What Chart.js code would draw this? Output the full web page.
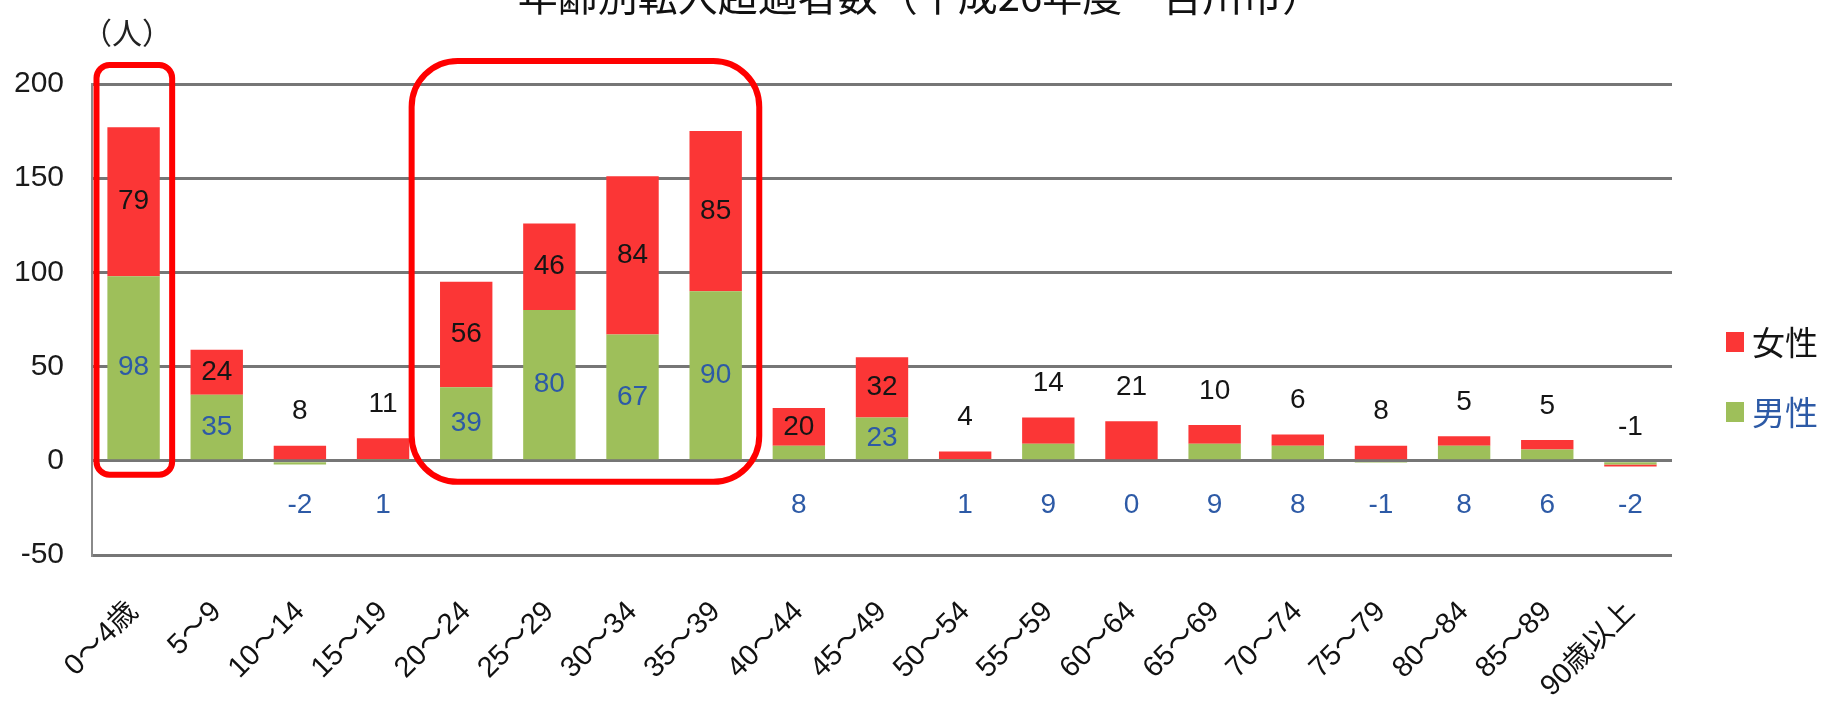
<!DOCTYPE html>
<html lang="ja">
<head>
<meta charset="utf-8">
<title>年齢別転入超過者数</title>
<script src="https://cdn.jsdelivr.net/npm/chart.js@4.4.1/dist/chart.umd.min.js"></script>
<style>
  html, body { margin: 0; padding: 0; background: #fff; }
  #wrap { position: relative; width: 1824px; height: 707px; overflow: hidden; }
</style>
</head>
<body>
<div id="wrap"><canvas id="chart" width="1824" height="707"></canvas></div>
<script>
// 年齢別転入超過者数: 男性・女性の積み上げ棒
var CHART_TITLE = "年齢別転入超過者数（平成26年度・吉川市）";
var UNIT_LABEL = "（人）";
var AGE_GROUPS = [
  "0～4歳", "5～9", "10～14", "15～19", "20～24", "25～29", "30～34",
  "35～39", "40～44", "45～49", "50～54", "55～59", "60～64", "65～69",
  "70～74", "75～79", "80～84", "85～89", "90歳以上"
];
var SERIES_NAMES = ["男性", "女性"];
var MALE = [98, 35, -2, 1, 39, 80, 67, 90, 8, 23, 1, 9, 0, 9, 8, -1, 8, 6, -2];
var FEMALE = [79, 24, 8, 11, 56, 46, 84, 85, 20, 32, 4, 14, 21, 10, 6, 8, 5, 5, -1];
var Y_TICKS = [-50, 0, 50, 100, 150, 200];
// 赤枠で囲むカテゴリ (先頭, 末尾)
var HIGHLIGHT_GROUPS = [[0, 0], [4, 7]];

(function () {
  var FONT = "'Liberation Sans', 'Noto Sans CJK JP', sans-serif";
  var JP_FONT = "'Noto Sans CJK JP', sans-serif";
  var RED = "#fb3636";
  var GREEN = "#9ebf5a";
  var MALE_TEXT = "#2d5aa6";
  var FEMALE_TEXT = "#151515";

  function roundRect(ctx, x, y, w, h, r) {
    ctx.beginPath();
    ctx.moveTo(x + r, y);
    ctx.arcTo(x + w, y, x + w, y + h, r);
    ctx.arcTo(x + w, y + h, x, y + h, r);
    ctx.arcTo(x, y + h, x, y, r);
    ctx.arcTo(x, y, x + w, y, r);
    ctx.closePath();
  }

  var textPlugin = {
    id: "textPlugin",
    afterDraw: function (chart) {
      var ctx = chart.ctx;
      ctx.save();
      // タイトル (上端で切れている)
      ctx.fillStyle = "#111";
      ctx.font = "40px " + JP_FONT;
      ctx.textAlign = "center";
      ctx.textBaseline = "alphabetic";
      ctx.fillText(CHART_TITLE, 920, 11);
      // 単位
      ctx.font = "30px " + JP_FONT;
      ctx.fillStyle = "#222";
      ctx.fillText(UNIT_LABEL, 127, 44);
      ctx.restore();
    }
  };

  var valueLabels = {
    id: "valueLabels",
    afterDatasetsDraw: function (chart) {
      var ctx = chart.ctx;
      var y = chart.scales.y;
      var zero = y.getPixelForValue(0);
      var male = chart.getDatasetMeta(0).data;
      var female = chart.getDatasetMeta(1).data;
      ctx.save();
      ctx.font = "28px " + FONT;
      ctx.textAlign = "center";
      ctx.textBaseline = "middle";
      for (var i = 0; i < AGE_GROUPS.length; i++) {
        var m = male[i], f = female[i];
        var top = Math.min(zero, m.y, m.base, f.y, f.base);
        // 男性
        ctx.fillStyle = MALE_TEXT;
        var mh = Math.abs(m.base - m.y);
        var my = mh >= 30 ? (m.y + m.base) / 2 : zero + 44;
        ctx.fillText(String(MALE[i]), m.x, my);
        // 女性: 低い棒は上に出す
        ctx.fillStyle = FEMALE_TEXT;
        var fh = Math.abs(f.base - f.y);
        var inside = fh >= 30 && (zero - top) >= 48;
        var fy = inside ? (f.y + f.base) / 2 : top - 34;
        ctx.fillText(String(FEMALE[i]), f.x, fy);
      }
      ctx.restore();
    }
  };

  var highlightBoxes = {
    id: "highlightBoxes",
    afterDraw: function (chart) {
      var ctx = chart.ctx;
      var x = chart.scales.x;
      var y = chart.scales.y;
      var step = x.getPixelForValue(1) - x.getPixelForValue(0);
      ctx.save();
      ctx.strokeStyle = "#ff0000";
      ctx.lineWidth = 6;
      HIGHLIGHT_GROUPS.forEach(function (g, k) {
        var left = x.getPixelForValue(g[0]) - step / 2;
        var right = x.getPixelForValue(g[1]) + step / 2;
        var top = y.getPixelForValue(Y_TICKS[Y_TICKS.length - 1]);
        var bottom = y.getPixelForValue(0);
        if (k === 0) {
          left += 4.5; right -= 3; top -= 19; bottom += 14;
        } else {
          left -= 13; right += 2; top -= 23; bottom += 21;
        }
        roundRect(ctx, left, top, right - left, bottom - top, k === 0 ? 13 : 46);
        ctx.stroke();
      });
      ctx.restore();
    }
  };

  var sideLegend = {
    id: "sideLegend",
    afterDraw: function (chart) {
      var ctx = chart.ctx;
      var items = [
        { name: SERIES_NAMES[1], fill: RED, text: FEMALE_TEXT, cy: 342 },
        { name: SERIES_NAMES[0], fill: GREEN, text: MALE_TEXT, cy: 412 }
      ];
      ctx.save();
      ctx.font = "33px " + JP_FONT;
      ctx.textAlign = "left";
      ctx.textBaseline = "middle";
      items.forEach(function (it) {
        ctx.fillStyle = it.fill;
        ctx.fillRect(1726, it.cy - 10, 18, 20);
        ctx.fillStyle = it.text;
        ctx.fillText(it.name, 1752, it.cy);
      });
      ctx.restore();
    }
  };

  function init() {
    var canvas = document.getElementById("chart");
    new Chart(canvas, {
      type: "bar",
      data: {
        labels: AGE_GROUPS,
        datasets: [
          {
            label: SERIES_NAMES[0],
            data: MALE,
            backgroundColor: GREEN,
            borderWidth: 0,
            barPercentage: 0.63,
            categoryPercentage: 1.0
          },
          {
            label: SERIES_NAMES[1],
            data: FEMALE,
            backgroundColor: RED,
            borderWidth: 0,
            barPercentage: 0.63,
            categoryPercentage: 1.0
          }
        ]
      },
      options: {
        responsive: false,
        animation: false,
        devicePixelRatio: 1,
        layout: { padding: { top: 84, right: 152, bottom: 0, left: 0 } },
        plugins: {
          legend: { display: false },
          tooltip: { enabled: false },
          title: { display: false }
        },
        scales: {
          x: {
            stacked: true,
            grid: { display: false, drawTicks: false },
            border: { display: false },
            ticks: {
              autoSkip: false,
              minRotation: 45,
              maxRotation: 45,
              padding: 40,
              color: "#111",
              font: { family: FONT, size: 29 }
            },
            afterFit: function (s) { s.height = 152; }
          },
          y: {
            stacked: true,
            min: Y_TICKS[0],
            max: Y_TICKS[Y_TICKS.length - 1],
            ticks: {
              stepSize: Y_TICKS[1] - Y_TICKS[0],
              padding: 28,
              color: "#1a1a1a",
              font: { family: FONT, size: 30 }
            },
            grid: { color: "#767676", lineWidth: 3, drawTicks: false },
            border: { display: true, color: "#8a8a8a", width: 2 },
            afterFit: function (s) { s.width = 92; }
          }
        }
      },
      plugins: [valueLabels, highlightBoxes, textPlugin, sideLegend]
    });
  }

  document.addEventListener("DOMContentLoaded", init);
})();
</script>
</body>
</html>
